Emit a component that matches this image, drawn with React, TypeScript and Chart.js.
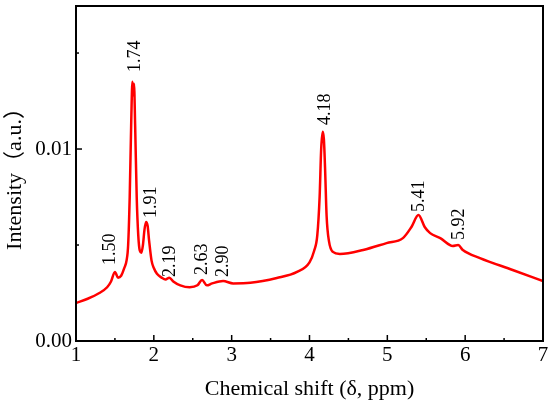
import React, { useEffect, useRef } from 'react';
import { Chart, registerables } from 'chart.js';

Chart.register(...registerables);

const shiftPpm = [
  1.0, 1.15, 1.3, 1.4, 1.45, 1.5, 1.54, 1.58, 1.62, 1.65, 1.67, 1.69, 1.71, 1.725, 1.735, 1.745,
  1.76, 1.78, 1.8, 1.82, 1.84, 1.86, 1.88, 1.9, 1.92, 1.94, 1.97, 2.0, 2.04, 2.1, 2.15, 2.2,
  2.25, 2.34, 2.46, 2.56, 2.62, 2.68, 2.75, 2.89, 3.02, 3.24, 3.58, 3.84, 4.0, 4.06, 4.1, 4.13,
  4.15, 4.17, 4.185, 4.2, 4.22, 4.25, 4.3, 4.39, 4.69, 4.99, 5.2, 5.31, 5.4, 5.48, 5.55, 5.68,
  5.84, 5.91, 5.97, 6.19, 6.61, 7.0,
];

const intensity = [
  0.00198, 0.0022, 0.0025, 0.0028, 0.0031, 0.0036, 0.0033, 0.0034, 0.0038, 0.0042, 0.005, 0.0075,
  0.0115, 0.0135, 0.0128, 0.0134, 0.0112, 0.0075, 0.0055, 0.0047, 0.0046, 0.005, 0.0058, 0.0062,
  0.006, 0.0052, 0.0042, 0.0038, 0.0035, 0.0033, 0.0032, 0.0033, 0.0031, 0.0029, 0.0028, 0.0029,
  0.00318, 0.0029, 0.003, 0.00312, 0.003, 0.00303, 0.00328, 0.0036, 0.0041, 0.0047, 0.0055, 0.0075,
  0.01, 0.0109, 0.0105, 0.009, 0.0065, 0.0052, 0.00464, 0.00453, 0.00474, 0.0051, 0.00536, 0.00594,
  0.00656, 0.00594, 0.00562, 0.00536, 0.00495, 0.005, 0.00474, 0.00432, 0.0037, 0.00312,
];

const peakLabels = ['1.50', '1.74', '1.91', '2.19', '2.63', '2.90', '4.18', '5.41', '5.92'];
const peakLabelPpm = [1.44, 1.76, 1.97, 2.21, 2.62, 2.89, 4.2, 5.41, 5.93];
const peakLabelIntensity = [0.00396, 0.01401, 0.00641, 0.00333, 0.00344, 0.00333, 0.01125, 0.00672, 0.00526];

const xTickLabels = ['1', '2', '3', '4', '5', '6', '7'];
const yTickLabels = ['0.00', '0.01'];

const SERIF = "'Liberation Serif', 'Times New Roman', serif";

const framePlugin = {
  id: 'frameTicks',
  afterDraw(chart: any) {
    const { ctx, chartArea, scales } = chart;
    const { left, right, top, bottom } = chartArea;
    const xs = scales.x;
    const ys = scales.y;
    ctx.save();
    ctx.strokeStyle = '#000';
    ctx.lineWidth = 1.5;
    xs.ticks.forEach((t: any) => {
      const px = xs.getPixelForValue(t.value);
      const major = Number.isInteger(Math.round(t.value * 1000) / 1000);
      const len = major ? 6 : 3;
      ctx.beginPath();
      ctx.moveTo(px, bottom);
      ctx.lineTo(px, bottom - len);
      ctx.stroke();
    });
    ys.ticks.forEach((t: any) => {
      const py = ys.getPixelForValue(t.value);
      const major = Math.round(t.value * 1000) % 10 === 0;
      const len = major ? 6 : 3;
      ctx.beginPath();
      ctx.moveTo(left, py);
      ctx.lineTo(left + len, py);
      ctx.stroke();
    });
    ctx.lineWidth = 2;
    ctx.strokeRect(left, top, right - left, bottom - top);
    ctx.restore();
  },
};

const peakLabelPlugin = {
  id: 'peakLabels',
  afterDatasetsDraw(chart: any) {
    const { ctx, scales } = chart;
    ctx.save();
    ctx.fillStyle = '#000';
    ctx.font = `18px ${SERIF}`;
    ctx.textAlign = 'left';
    ctx.textBaseline = 'middle';
    peakLabels.forEach((lab, i) => {
      const px = scales.x.getPixelForValue(peakLabelPpm[i]);
      const py = scales.y.getPixelForValue(peakLabelIntensity[i]);
      ctx.save();
      ctx.translate(px, py);
      ctx.rotate(-Math.PI / 2);
      ctx.fillText(lab, 0, 0);
      ctx.restore();
    });
    ctx.restore();
  },
};

export default function App() {
  const canvasRef = useRef<HTMLCanvasElement | null>(null);

  useEffect(() => {
    if (!canvasRef.current) return;
    const points = shiftPpm.map((x, i) => ({ x, y: intensity[i] }));
    const chart = new Chart(canvasRef.current, {
      type: 'line',
      data: {
        datasets: [
          {
            data: points,
            borderColor: '#ff0000',
            borderWidth: 2.5,
            pointRadius: 0,
            fill: false,
            cubicInterpolationMode: 'monotone',
          },
        ],
      },
      options: {
        animation: false,
        responsive: true,
        maintainAspectRatio: false,
        layout: { padding: { top: 6, right: 7, left: 0, bottom: 0 } },
        plugins: { legend: { display: false }, tooltip: { enabled: false } },
        scales: {
          x: {
            type: 'linear',
            min: 1,
            max: 7,
            grid: { display: false, drawTicks: false },
            border: { display: false },
            ticks: {
              stepSize: 0.5,
              includeBounds: false,
              padding: 2,
              color: '#000',
              font: { family: SERIF, size: 21 },
              maxRotation: 0,
              autoSkip: false,
              callback: (v: any) => {
                const n = Number(v);
                return Number.isInteger(n) ? xTickLabels[n - 1] : '';
              },
            },
            title: {
              display: true,
              text: 'Chemical shift (δ, ppm)',
              color: '#000',
              font: { family: SERIF, size: 22 },
              padding: { top: 0, bottom: 5 },
            },
            afterFit: (s: any) => {
              s.height = 66;
              s.paddingLeft = 0;
              s.paddingRight = 0;
            },
          },
          y: {
            min: 0,
            max: 0.01745,
            grid: { display: false, drawTicks: false },
            border: { display: false },
            ticks: {
              stepSize: 0.005,
              includeBounds: false,
              padding: 4,
              color: '#000',
              font: { family: SERIF, size: 21 },
              autoSkip: false,
              callback: (v: any) => {
                const k = Math.round(Number(v) * 1000);
                return k % 10 === 0 ? yTickLabels[k / 10] ?? '' : '';
              },
            },
            title: {
              display: true,
              text: 'Intensity（a.u.）',
              color: '#000',
              font: { family: "'Liberation Serif', 'Noto Sans CJK SC', serif", size: 22 },
              padding: { top: 2, bottom: 0 },
            },
            afterFit: (s: any) => {
              s.width = 76;
              s.paddingTop = 0;
              s.paddingBottom = 0;
            },
          },
        },
      },
      plugins: [peakLabelPlugin, framePlugin],
    } as any);
    return () => chart.destroy();
  }, []);

  return (
    <div style={{ position: 'absolute', left: 0, top: 0, width: 550, height: 407, background: '#fff' }}>
      <canvas ref={canvasRef} />
    </div>
  );
}
